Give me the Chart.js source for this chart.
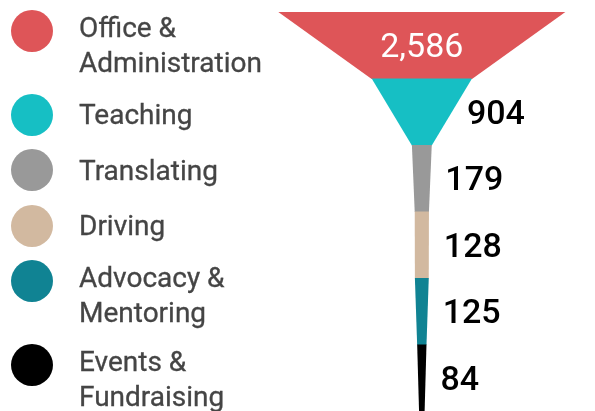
<!DOCTYPE html>
<html>
<head>
  <meta charset="UTF-8" />
  <title>Volunteer roles</title>
  <script src="https://cdn.jsdelivr.net/npm/chart.js"></script>
  <style>
    body {
      margin: 0;
      background: #ffffff;
      font-family: Roboto, sans-serif;
    }

    .wrap {
      position: relative;
      width: 595px;
      height: 411px;
    }

    .legend {
      position: absolute;
      left: 11px;
      top: 10px;
      display: flex;
      flex-direction: column;
      gap: 13.5px;
    }

    .legend-item {
      display: flex;
      align-items: flex-start;
    }

    .dot {
      width: 42px;
      height: 42px;
      border-radius: 50%;
      flex: none;
    }

    .legend-text {
      align-self: center;
      margin-left: 26px;
      font-size: 28px;
      line-height: 35px;
      color: #454545;
      -webkit-text-stroke: 0.3px #454545;
    }
  </style>
</head>
<body>
  <div class="wrap">
    <canvas id="funnel"></canvas>
    <div class="legend" id="legend"></div>
  </div>

  <script>
    const roles = [
      ['Office &', 'Administration'],
      ['Teaching'],
      ['Translating'],
      ['Driving'],
      ['Advocacy &', 'Mentoring'],
      ['Events &', 'Fundraising']
    ];
    const volunteers = [2586, 904, 179, 128, 125, 84];
    const colors = ['#de5558', '#16bfc4', '#999999', '#d2b9a0', '#108393', '#000000'];
    const funnelTip = 50; // width of the funnel at its very bottom

    // legend, built from the same arrays
    const legend = document.getElementById('legend');
    roles.forEach((lines, i) => {
      const item = document.createElement('div');
      item.className = 'legend-item';
      const dot = document.createElement('span');
      dot.className = 'dot';
      dot.style.background = colors[i];
      const txt = document.createElement('div');
      txt.className = 'legend-text';
      txt.innerHTML = lines.join('<br>');
      item.appendChild(dot);
      item.appendChild(txt);
      legend.appendChild(item);
    });

    // draws each bar as a trapezoid: top = its value, bottom = the next value
    const funnelPlugin = {
      id: 'funnel',
      afterDatasetsDraw(chart) {
        const ctx = chart.ctx;
        const xs = chart.scales.x;
        const meta = chart.getDatasetMeta(0);
        ctx.save();
        meta.data.forEach((bar, i) => {
          const top = bar.y - bar.height / 2;
          const bottom = bar.y + bar.height / 2;
          const w1 = volunteers[i] / 2;
          const w2 = (i < volunteers.length - 1 ? volunteers[i + 1] : funnelTip) / 2;

          ctx.beginPath();
          ctx.moveTo(xs.getPixelForValue(-w1), top);
          ctx.lineTo(xs.getPixelForValue(w1), top);
          ctx.lineTo(xs.getPixelForValue(w2), bottom + 0.5);
          ctx.lineTo(xs.getPixelForValue(-w2), bottom + 0.5);
          ctx.closePath();
          ctx.fillStyle = colors[i];
          ctx.fill();

          // value label
          const mid = (top + bottom) / 2;
          const half = (w1 + w2) / 2;
          const left = xs.getPixelForValue(-half);
          const right = xs.getPixelForValue(half);
          const text = volunteers[i].toLocaleString('en-US');
          ctx.font = '400 34px Roboto';
          const tw = ctx.measureText(text).width;
          ctx.textBaseline = 'alphabetic';
          if (tw + 24 < right - left) {
            ctx.fillStyle = '#ffffff';
            ctx.textAlign = 'center';
            ctx.fillText(text, (left + right) / 2, mid + 12);
          } else {
            ctx.font = '500 34px Roboto';
            ctx.fillStyle = '#000000';
            ctx.textAlign = 'left';
            ctx.fillText(text, right + 15, mid + 12);
          }
        });
        ctx.restore();
      }
    };

    new Chart(document.getElementById('funnel'), {
      type: 'bar',
      data: {
        labels: roles.map(r => r.join(' ')),
        datasets: [{
          data: volunteers.map(v => [-v / 2, v / 2]),
          backgroundColor: 'rgba(0,0,0,0)',
          barPercentage: 1,
          categoryPercentage: 1
        }]
      },
      options: {
        indexAxis: 'y',
        responsive: true,
        maintainAspectRatio: false,
        animation: false,
        layout: { padding: { top: 12, left: 0, right: 0, bottom: 0 } },
        scales: {
          x: { type: 'linear', min: -3800, max: 1560, display: false },
          y: { display: false, offset: true }
        },
        plugins: {
          legend: { display: false },
          tooltip: { enabled: false }
        }
      },
      plugins: [funnelPlugin]
    });
  </script>
</body>
</html>
